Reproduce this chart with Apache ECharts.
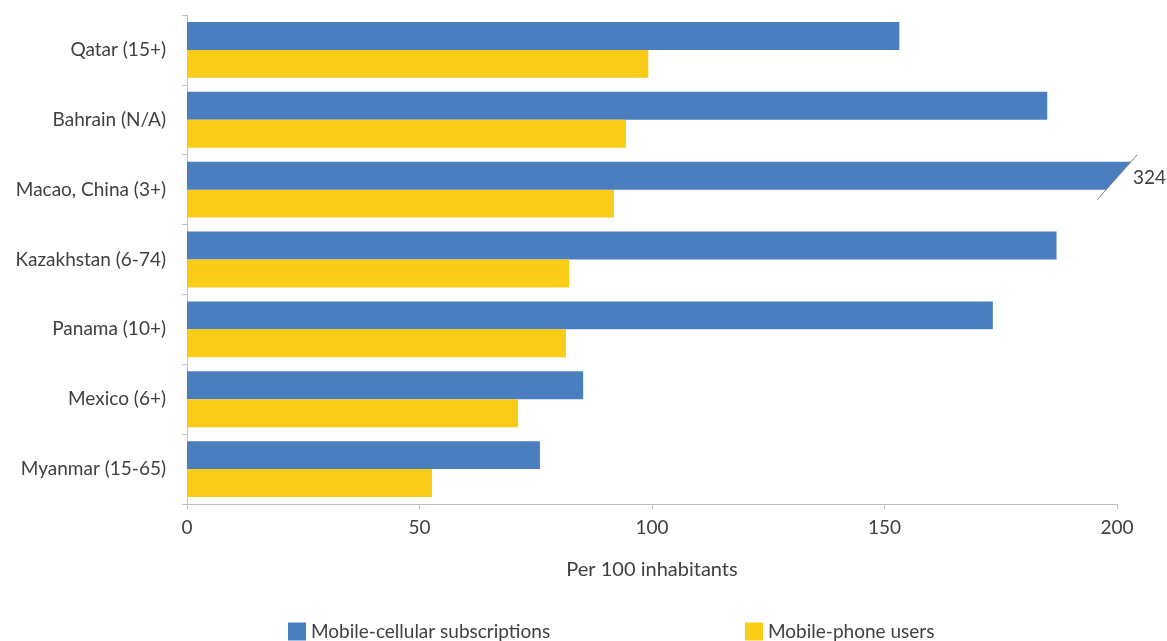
<!DOCTYPE html>
<html><head><meta charset="utf-8">
<script src="https://cdn.jsdelivr.net/npm/echarts@6/dist/echarts.min.js"></script>
<style>html,body{margin:0;padding:0;background:#fff}#c{width:1167px;height:641px}</style>
</head><body><div id="c"></div>
<script>
const categories = ['Qatar (15+)','Bahrain (N/A)','Macao, China (3+)','Kazakhstan (6-74)','Panama (10+)','Mexico (6+)','Myanmar (15-65)'];
const subscriptions = [153.2, 185.0, 324, 187.0, 173.3, 85.2, 75.9];
const users = [99.2, 94.4, 91.8, 82.2, 81.5, 71.2, 52.7];
const xTicks = [0, 50, 100, 150, 200];
const seriesNames = ['Mobile-cellular subscriptions','Mobile-phone users'];
const axisMax = 200;

const BLUE = '#4a7ebf', YELLOW = '#f9cc17', TXT = '#404040', FONT = 'Lato';

const blueData = subscriptions.map(v => v > axisMax ? {value: v, itemStyle: {opacity: 0}} : v);
const overflow = [];
subscriptions.forEach((v, i) => { if (v > axisMax) overflow.push([i, v]); });

const chart = echarts.init(document.getElementById('c'));
chart.setOption({
  animation: false,
  textStyle: {fontFamily: FONT, color: TXT},
  grid: {left: 187, right: 50, top: 15, bottom: 137, containLabel: false},
  legend: [
    {data: [seriesNames[0]], left: 283, top: 617, itemWidth: 18, itemHeight: 18, icon: 'rect',
     textStyle: {fontFamily: FONT, fontSize: 19, color: TXT}},
    {data: [seriesNames[1]], left: 740, top: 617, itemWidth: 18, itemHeight: 18, icon: 'rect',
     textStyle: {fontFamily: FONT, fontSize: 19, color: TXT}}
  ],
  xAxis: {
    type: 'value', min: 0, max: axisMax, interval: 50,
    name: 'Per 100 inhabitants', nameLocation: 'middle', nameGap: 56,
    nameTextStyle: {fontFamily: FONT, fontSize: 20, color: TXT},
    axisLine: {show: true, lineStyle: {color: '#bfbfbf'}},
    axisTick: {show: true, length: 5, lineStyle: {color: '#bfbfbf'}},
    axisLabel: {fontFamily: FONT, fontSize: 19, color: TXT, margin: 14,
      formatter: v => xTicks.includes(v) ? String(v) : ''},
    splitLine: {show: false}
  },
  yAxis: {
    type: 'category', data: categories, inverse: true,
    axisLine: {show: true, lineStyle: {color: '#bfbfbf'}},
    axisTick: {show: true, length: 5, lineStyle: {color: '#bfbfbf'}},
    axisLabel: {fontFamily: FONT, fontSize: 19, color: TXT, margin: 21}
  },
  series: [
    {name: seriesNames[0], type: 'bar', data: blueData, barGap: '0%', barCategoryGap: '20%',
     itemStyle: {color: BLUE}},
    {name: seriesNames[1], type: 'bar', data: users, barGap: '0%', barCategoryGap: '20%',
     itemStyle: {color: YELLOW}},
    {name: 'overflow', type: 'custom', data: overflow, clip: false, z: 5,
     renderItem: function (params, api) {
       const cat = api.value(0);
       const c0 = api.coord([0, cat]);
       const cMax = api.coord([axisMax, cat]);
       const band = api.size([0, 1])[1];
       const top = c0[1] - band * 0.4;
       const bot = c0[1];
       const slope = 40 / 45;
       const xTop = cMax[0] + 14;
       const xBot = xTop - (bot - top) * slope;
       const ly1 = top - 7;
       const lx1 = xTop + 7 * slope;
       const ly2 = bot + 10;
       const lx2 = xTop - (ly2 - top) * slope;
       return {type: 'group', children: [
         {type: 'polygon', shape: {points: [[c0[0], top], [xTop, top], [xBot, bot], [c0[0], bot]]},
          style: {fill: BLUE}},
         {type: 'line', shape: {x1: lx1, y1: ly1, x2: lx2, y2: ly2},
          style: {stroke: '#7f7f7f', lineWidth: 1}},
         {type: 'text', style: {text: String(api.value(1)), x: xTop + 2, y: (top + bot) / 2 + 2,
          textVerticalAlign: 'middle', font: '19px ' + FONT, fill: TXT}}
       ]};
     }}
  ]
});
</script></body></html>
